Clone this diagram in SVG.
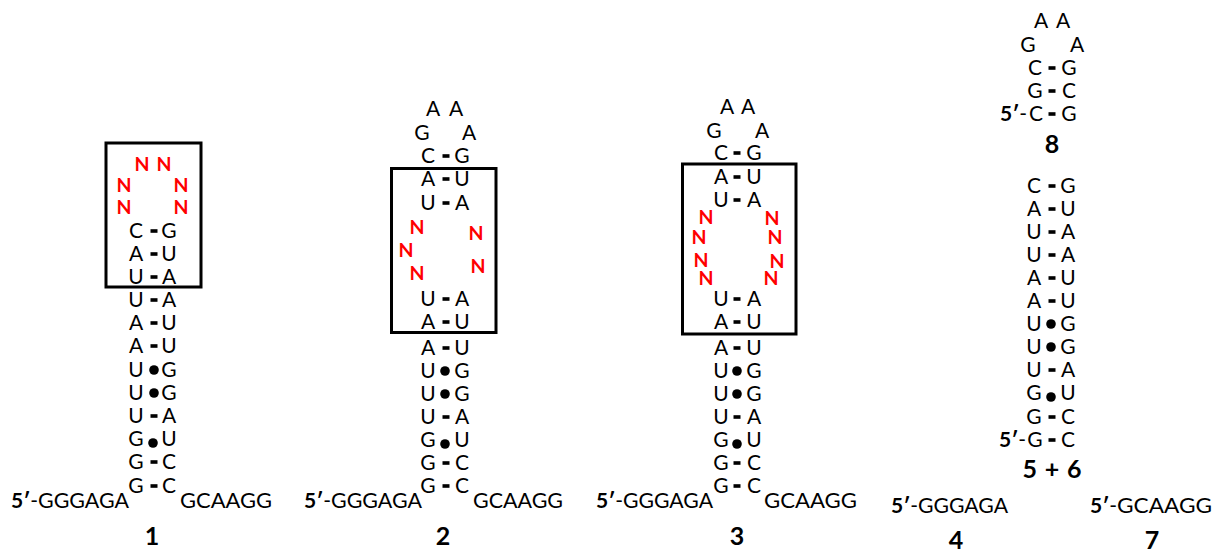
<svg xmlns="http://www.w3.org/2000/svg" xmlns:xlink="http://www.w3.org/1999/xlink" width="1228" height="554" viewBox="0 0 1228 554">
  <style>
    text { font-family: Lato, "Open Sans", "Liberation Sans", sans-serif; fill: #000; }
    .b { font-size: 21px; text-anchor: middle; }
    .s { font-size: 21px; }
    .n { font-size: 19.5px; font-weight: bold; fill: #ff0000; text-anchor: middle; }
    .lbl { font-size: 25px; font-weight: bold; text-anchor: middle; }
    .p { font-weight: bold; }
    .box { fill: none; stroke: #000; stroke-width: 3; }
  </style>
  <defs>
    <rect id="wc" x="-3.5" y="-1.8" width="7" height="3.6" fill="#000"/>
    <circle id="gu" r="4.8" fill="#000"/>
  </defs>
  <rect width="1228" height="554" fill="#fff"/>

  <!-- construct 1 -->
  <g id="s1">
    <rect class="box" x="106" y="143" width="95" height="144"/>
    <text class="n" x="142" y="171">N</text><text class="n" x="164" y="171">N</text>
    <text class="n" x="124" y="192">N</text><text class="n" x="181" y="192">N</text>
    <text class="n" x="124" y="214">N</text><text class="n" x="181" y="214">N</text>
    <text class="b" x="136" y="238">C</text><text class="b" x="169" y="238">G</text>
    <text class="b" x="136" y="261">A</text><text class="b" x="169" y="261">U</text>
    <text class="b" x="136" y="284">U</text><text class="b" x="169" y="284">A</text>
    <text class="b" x="136" y="307">U</text><text class="b" x="169" y="307">A</text>
    <text class="b" x="136" y="330">A</text><text class="b" x="169" y="330">U</text>
    <text class="b" x="136" y="353">A</text><text class="b" x="169" y="353">U</text>
    <text class="b" x="136" y="377">U</text><text class="b" x="169" y="377">G</text>
    <text class="b" x="136" y="400">U</text><text class="b" x="169" y="400">G</text>
    <text class="b" x="136" y="423">U</text><text class="b" x="169" y="423">A</text>
    <text class="b" x="136" y="446">G</text><text class="b" x="169" y="446">U</text>
    <text class="b" x="136" y="469">G</text><text class="b" x="169" y="469">C</text>
    <text class="b" x="136" y="493">G</text><text class="b" x="169" y="493">C</text>
    <text class="s" x="11" y="508"><tspan class="p">5′</tspan>-</text>
    <text class="s" x="38" y="508" textLength="91" lengthAdjust="spacingAndGlyphs">GGGAGA</text>
    <text class="s" x="180" y="508" textLength="92" lengthAdjust="spacingAndGlyphs">GCAAGG</text>
    <text class="lbl" x="152" y="545">1</text>
  </g>

  <!-- construct 2 -->
  <g id="s2">
    <rect class="box" x="391.5" y="168.5" width="104.5" height="164"/>
    <text class="b" x="433" y="116">A</text><text class="b" x="456" y="116">A</text>
    <text class="b" x="422" y="140">G</text><text class="b" x="469" y="140">A</text>
    <text class="b" x="428" y="163">C</text><text class="b" x="462" y="163">G</text>
    <text class="b" x="428" y="186">A</text><text class="b" x="462" y="186">U</text>
    <text class="b" x="428" y="210">U</text><text class="b" x="462" y="210">A</text>
    <text class="n" x="417" y="234">N</text>
    <text class="n" x="406" y="257">N</text>
    <text class="n" x="417" y="280">N</text>
    <text class="n" x="476" y="240">N</text>
    <text class="n" x="478" y="273">N</text>
    <text class="b" x="428" y="306">U</text><text class="b" x="462" y="306">A</text>
    <text class="b" x="428" y="329">A</text><text class="b" x="462" y="329">U</text>
    <text class="b" x="428" y="355">A</text><text class="b" x="462" y="355">U</text>
    <text class="b" x="428" y="378">U</text><text class="b" x="462" y="378">G</text>
    <text class="b" x="428" y="401">U</text><text class="b" x="462" y="401">G</text>
    <text class="b" x="428" y="424">U</text><text class="b" x="462" y="424">A</text>
    <text class="b" x="428" y="447">G</text><text class="b" x="462" y="447">U</text>
    <text class="b" x="428" y="470">G</text><text class="b" x="462" y="470">C</text>
    <text class="b" x="428" y="493">G</text><text class="b" x="462" y="493">C</text>
    <text class="s" x="304" y="508"><tspan class="p">5′</tspan>-</text>
    <text class="s" x="331" y="508" textLength="91" lengthAdjust="spacingAndGlyphs">GGGAGA</text>
    <text class="s" x="473" y="508" textLength="90" lengthAdjust="spacingAndGlyphs">GCAAGG</text>
    <text class="lbl" x="443" y="545">2</text>
  </g>

  <!-- construct 3 -->
  <g id="s3">
    <rect class="box" x="682.5" y="164" width="113.5" height="170"/>
    <text class="b" x="727" y="114">A</text><text class="b" x="748" y="114">A</text>
    <text class="b" x="714" y="138">G</text><text class="b" x="762" y="138">A</text>
    <text class="b" x="721" y="160">C</text><text class="b" x="754" y="160">G</text>
    <text class="b" x="721" y="184">A</text><text class="b" x="754" y="184">U</text>
    <text class="b" x="721" y="207">U</text><text class="b" x="754" y="207">A</text>
    <text class="n" x="706" y="224">N</text>
    <text class="n" x="699" y="244">N</text>
    <text class="n" x="701" y="267">N</text>
    <text class="n" x="706" y="285">N</text>
    <text class="n" x="772" y="225">N</text>
    <text class="n" x="775" y="244">N</text>
    <text class="n" x="777" y="268">N</text>
    <text class="n" x="771" y="285">N</text>
    <text class="b" x="721" y="306">U</text><text class="b" x="754" y="306">A</text>
    <text class="b" x="721" y="329">A</text><text class="b" x="754" y="329">U</text>
    <text class="b" x="721" y="355">A</text><text class="b" x="754" y="355">U</text>
    <text class="b" x="721" y="378">U</text><text class="b" x="754" y="378">G</text>
    <text class="b" x="721" y="401">U</text><text class="b" x="754" y="401">G</text>
    <text class="b" x="721" y="424">U</text><text class="b" x="754" y="424">A</text>
    <text class="b" x="721" y="447">G</text><text class="b" x="754" y="447">U</text>
    <text class="b" x="721" y="470">G</text><text class="b" x="754" y="470">C</text>
    <text class="b" x="721" y="493">G</text><text class="b" x="754" y="493">C</text>
    <text class="s" x="596" y="508"><tspan class="p">5′</tspan>-</text>
    <text class="s" x="623" y="508" textLength="90" lengthAdjust="spacingAndGlyphs">GGGAGA</text>
    <text class="s" x="764" y="508" textLength="93" lengthAdjust="spacingAndGlyphs">GCAAGG</text>
    <text class="lbl" x="737" y="545">3</text>
  </g>

  <!-- hairpin 8 -->
  <g id="s8">
    <text class="b" x="1041" y="28">A</text><text class="b" x="1063" y="28">A</text>
    <text class="b" x="1028" y="52">G</text><text class="b" x="1077" y="52">A</text>
    <text class="b" x="1035" y="75">C</text><text class="b" x="1069" y="75">G</text>
    <text class="b" x="1035" y="98">G</text><text class="b" x="1069" y="98">C</text>
    <text class="b" x="1036" y="121">C</text><text class="b" x="1069" y="121">G</text>
    <text class="s" x="1000" y="121"><tspan class="p">5′</tspan>-</text>
    <text class="lbl" x="1052" y="153">8</text>
  </g>

  <!-- duplex 5 + 6 -->
  <g id="s56">
    <text class="b" x="1034" y="193">C</text><text class="b" x="1068" y="193">G</text>
    <text class="b" x="1034" y="216">A</text><text class="b" x="1068" y="216">U</text>
    <text class="b" x="1034" y="239">U</text><text class="b" x="1068" y="239">A</text>
    <text class="b" x="1034" y="262">U</text><text class="b" x="1068" y="262">A</text>
    <text class="b" x="1034" y="285">A</text><text class="b" x="1068" y="285">U</text>
    <text class="b" x="1034" y="308">A</text><text class="b" x="1068" y="308">U</text>
    <text class="b" x="1034" y="331">U</text><text class="b" x="1068" y="331">G</text>
    <text class="b" x="1034" y="354">U</text><text class="b" x="1068" y="354">G</text>
    <text class="b" x="1034" y="377">U</text><text class="b" x="1068" y="377">A</text>
    <text class="b" x="1034" y="400">G</text><text class="b" x="1068" y="400">U</text>
    <text class="b" x="1034" y="424">G</text><text class="b" x="1068" y="424">C</text>
    <text class="b" x="1035" y="447">G</text><text class="b" x="1068" y="447">C</text>
    <text class="s" x="999" y="447"><tspan class="p">5′</tspan>-</text>
    <text class="lbl" x="1052" y="478" textLength="59" lengthAdjust="spacing">5 + 6</text>
  </g>

  <!-- strand 4 -->
  <g id="s4">
    <text class="s" x="891" y="513"><tspan class="p">5′</tspan>-</text>
    <text class="s" x="918" y="513" textLength="90" lengthAdjust="spacingAndGlyphs">GGGAGA</text>
    <text class="lbl" x="956" y="549">4</text>
  </g>

  <!-- strand 7 -->
  <g id="s7">
    <text class="s" x="1090" y="513"><tspan class="p">5′</tspan>-</text>
    <text class="s" x="1117" y="513" textLength="95" lengthAdjust="spacingAndGlyphs">GCAAGG</text>
    <text class="lbl" x="1152" y="549">7</text>
  </g>

  <!-- base-pair marks: bars for Watson-Crick, dots for G-U wobble -->
  <g id="connectors">
    <use xlink:href="#wc" x="154" y="231"/>
    <use xlink:href="#wc" x="154" y="254"/>
    <use xlink:href="#wc" x="154" y="277"/>
    <use xlink:href="#wc" x="154" y="300"/>
    <use xlink:href="#wc" x="154" y="323"/>
    <use xlink:href="#wc" x="154" y="346"/>
    <use xlink:href="#gu" x="154" y="370"/>
    <use xlink:href="#gu" x="154" y="393"/>
    <use xlink:href="#wc" x="154" y="416"/>
    <use xlink:href="#gu" x="153" y="443"/>
    <use xlink:href="#wc" x="154" y="462"/>
    <use xlink:href="#wc" x="154" y="486"/>

    <use xlink:href="#wc" x="446" y="156"/>
    <use xlink:href="#wc" x="446" y="179"/>
    <use xlink:href="#wc" x="446" y="203"/>
    <use xlink:href="#wc" x="446" y="299"/>
    <use xlink:href="#wc" x="446" y="322"/>
    <use xlink:href="#wc" x="446" y="348"/>
    <use xlink:href="#gu" x="445" y="371"/>
    <use xlink:href="#gu" x="445" y="394"/>
    <use xlink:href="#wc" x="446" y="417"/>
    <use xlink:href="#gu" x="445" y="444"/>
    <use xlink:href="#wc" x="446" y="463"/>
    <use xlink:href="#wc" x="446" y="486"/>

    <use xlink:href="#wc" x="737" y="153"/>
    <use xlink:href="#wc" x="737" y="177"/>
    <use xlink:href="#wc" x="737" y="200"/>
    <use xlink:href="#wc" x="737" y="299"/>
    <use xlink:href="#wc" x="737" y="322"/>
    <use xlink:href="#wc" x="737" y="348"/>
    <use xlink:href="#gu" x="737" y="371"/>
    <use xlink:href="#gu" x="737" y="394"/>
    <use xlink:href="#wc" x="737" y="417"/>
    <use xlink:href="#gu" x="737" y="444"/>
    <use xlink:href="#wc" x="737" y="463"/>
    <use xlink:href="#wc" x="737" y="486"/>

    <use xlink:href="#wc" x="1052" y="68"/>
    <use xlink:href="#wc" x="1052" y="91"/>
    <use xlink:href="#wc" x="1052" y="114"/>

    <use xlink:href="#wc" x="1052" y="186"/>
    <use xlink:href="#wc" x="1052" y="209"/>
    <use xlink:href="#wc" x="1052" y="232"/>
    <use xlink:href="#wc" x="1052" y="255"/>
    <use xlink:href="#wc" x="1052" y="278"/>
    <use xlink:href="#wc" x="1052" y="301"/>
    <use xlink:href="#gu" x="1051" y="324"/>
    <use xlink:href="#gu" x="1051" y="347"/>
    <use xlink:href="#wc" x="1052" y="370"/>
    <use xlink:href="#gu" x="1051" y="397"/>
    <use xlink:href="#wc" x="1052" y="417"/>
    <use xlink:href="#wc" x="1052" y="440"/>
  </g>
</svg>
